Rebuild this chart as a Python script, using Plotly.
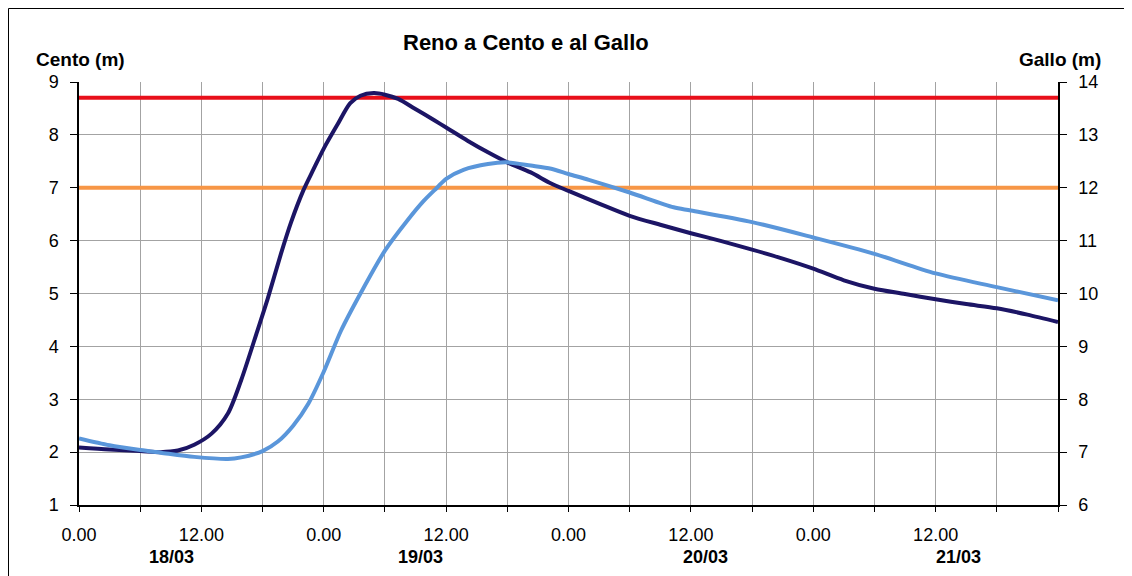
import plotly.graph_objects as go

# ---- data (hours from 18/03 00:00) ----
cento_t = [0, 3, 6, 8, 9.7, 11.3, 13, 14.6, 15.9, 17.5, 18.5, 19.8, 20.8, 22, 23, 24, 25.3, 26.6,
           27.6, 28.9, 30, 31.3, 32.9, 34.8, 36, 38.1, 40.1, 42, 44.3, 46.3, 48, 51, 54, 57, 60,
           63, 66, 69, 72, 75, 78, 81, 84, 87, 90, 93, 96]
cento_v = [2.09, 2.05, 2.02, 2.00, 2.03, 2.14, 2.35, 2.73, 3.36, 4.3, 4.9, 5.75, 6.35, 6.95, 7.35, 7.74,
           8.18, 8.6, 8.74, 8.79, 8.76, 8.68, 8.5, 8.28, 8.14, 7.89, 7.67, 7.48, 7.29, 7.08, 6.94,
           6.7, 6.47, 6.3, 6.14, 5.99, 5.83, 5.66, 5.47, 5.25, 5.09, 4.99, 4.89, 4.8, 4.72, 4.6, 4.46]

gallo_t = [0, 3, 6, 8, 11.3, 14.6, 15.9, 18, 19.5, 21, 22.5, 24, 25.7, 27.6, 30, 32.2, 33.8,
           35.1, 36, 37.7, 40.1, 42, 44.3, 46.3, 48, 50, 54, 58.3, 60, 66, 72, 78, 84, 90, 96]
gallo_v = [7.26, 7.13, 7.04, 6.99, 6.91, 6.87, 6.90, 7.02, 7.2, 7.5, 7.92, 8.52, 9.3, 10.0,
           10.81, 11.38, 11.75, 12.0, 12.17, 12.34, 12.45, 12.48, 12.42, 12.36, 12.26, 12.15, 11.91,
           11.63, 11.57, 11.35, 11.06, 10.75, 10.38, 10.12, 9.87]

red_level = 8.7
orange_level = 7.0
x_range = [0, 96]

tick_hours = list(range(0, 97, 6))
tick_text = ["0.00", "", "12.00", "", "0.00", "", "12.00", "", "0.00", "", "12.00", "", "0.00", "",
             "12.00", "", ""]
date_labels = ["18/03", "19/03", "20/03", "21/03"]

FONT = "Liberation Sans, Arial, sans-serif"

fig = go.Figure()
fig.add_trace(go.Scatter(x=x_range, y=[red_level] * 2, mode="lines",
                         line=dict(color="#e8101a", width=4), showlegend=False))
fig.add_trace(go.Scatter(x=x_range, y=[orange_level] * 2, mode="lines",
                         line=dict(color="#f79646", width=4), showlegend=False))
fig.add_trace(go.Scatter(x=gallo_t, y=gallo_v, mode="lines", yaxis="y2",
                         line=dict(color="#5a96da", width=4, shape="spline", smoothing=0.8),
                         showlegend=False))
fig.add_trace(go.Scatter(x=cento_t, y=cento_v, mode="lines",
                         line=dict(color="#1c1565", width=4, shape="spline", smoothing=0.8),
                         showlegend=False))

# page body has an 8px margin: figure origin sits at screen (8, 8)
OFF = 8
W, H = 1132 - OFF, 576 - OFF
L, R, T, B = 79 - OFF, 1132 - 1058, 82 - OFF, 576 - 505
pw, ph = W - L - R, H - T - B


def px_x(s):
    return (s - OFF - L) / pw


def px_y(s):
    return (H - B - (s - OFF)) / ph


annotations = []
for lab, sx in zip(date_labels, [171, 420, 705, 958]):
    annotations.append(dict(text="<b>" + lab + "</b>", x=px_x(sx), xref="paper", y=px_y(557), yref="paper",
                            showarrow=False, font=dict(family=FONT, size=18, color="black"),
                            xanchor="center", yanchor="middle"))
annotations.append(dict(text="<b>Cento (m)</b>", x=px_x(80), xref="paper", y=px_y(60), yref="paper",
                        showarrow=False, font=dict(family=FONT, size=19, color="black"),
                        xanchor="center", yanchor="middle"))
annotations.append(dict(text="<b>Gallo (m)</b>", x=px_x(1060), xref="paper", y=px_y(60), yref="paper",
                        showarrow=False, font=dict(family=FONT, size=19, color="black"),
                        xanchor="center", yanchor="middle"))
annotations.append(dict(text="<b>Reno a Cento e al Gallo</b>", x=px_x(526), xref="paper", y=px_y(42),
                        yref="paper", showarrow=False, font=dict(family=FONT, size=22, color="black"),
                        xanchor="center", yanchor="middle"))

fig.update_layout(
    width=W, height=H,
    margin=dict(l=L, r=R, t=T, b=B),
    paper_bgcolor="white", plot_bgcolor="white",
    font=dict(family=FONT, size=18, color="black"),
    xaxis=dict(range=x_range, tickmode="array", tickvals=tick_hours, ticktext=tick_text,
               showgrid=True, gridcolor="#a3a3a3", gridwidth=1,
               showline=True, linecolor="black", linewidth=1.5,
               ticks="outside", ticklen=5, tickcolor="black", zeroline=False,
               tickfont=dict(size=18), ticklabelstandoff=8),
    yaxis=dict(range=[1, 9], dtick=1, showgrid=True, gridcolor="#a3a3a3", gridwidth=1,
               showline=True, linecolor="black", linewidth=1.5, ticks="outside", ticklen=7,
               tickcolor="black", zeroline=False, tickfont=dict(size=18), ticklabelstandoff=8),
    yaxis2=dict(range=[6, 14], dtick=1, overlaying="y", side="right", showgrid=False,
                showline=True, linecolor="black", linewidth=1.5, ticks="outside", ticklen=7,
                tickcolor="black", zeroline=False, tickfont=dict(size=18), ticklabelstandoff=8),
    annotations=annotations,
    shapes=[
        dict(type="line", xref="paper", yref="paper", x0=px_x(8.5), x1=px_x(1132), y0=px_y(8.5),
             y1=px_y(8.5), line=dict(color="black", width=1), layer="below"),
        dict(type="line", xref="paper", yref="paper", x0=px_x(8.5), x1=px_x(8.5), y0=px_y(576),
             y1=px_y(8.5), line=dict(color="black", width=1), layer="below"),
    ],
)

fig.write_html("out.html")
